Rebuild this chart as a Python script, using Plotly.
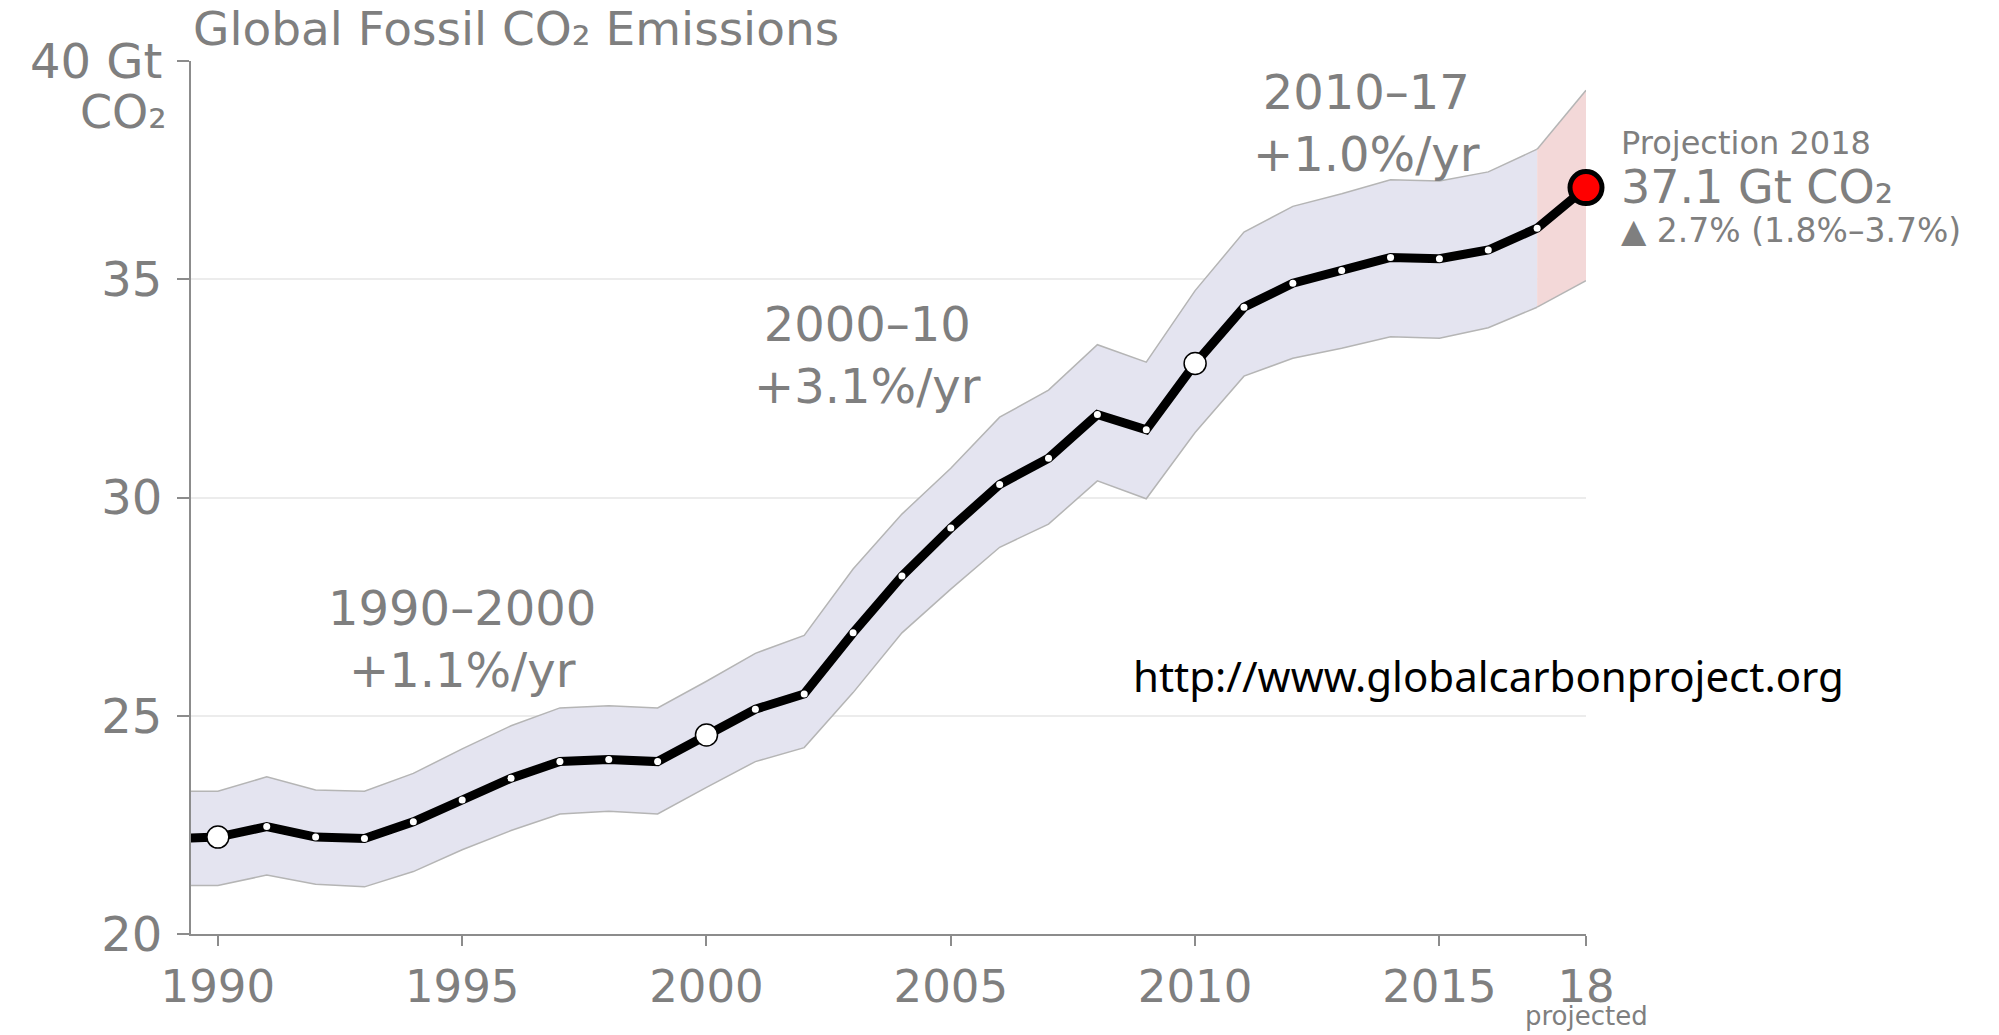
import plotly.graph_objects as go

# Global fossil CO2 emissions (Gt CO2) with uncertainty band
years = list(range(1989, 2019))
emissions = [22.18, 22.22, 22.46, 22.22, 22.19, 22.57, 23.07, 23.57, 23.95, 24.00,
             23.95, 24.56, 25.15, 25.50, 26.90, 28.20, 29.30, 30.30, 30.90, 31.90,
             31.55, 33.07, 34.36, 34.91, 35.20, 35.50, 35.47, 35.67, 36.17, 37.10]
upper = [23.27, 23.27, 23.60, 23.30, 23.27, 23.68, 24.24, 24.77, 25.18, 25.23,
         25.18, 25.79, 26.43, 26.84, 28.36, 29.62, 30.67, 31.84, 32.46, 33.50,
         33.10, 34.74, 36.08, 36.67, 36.96, 37.28, 37.25, 37.46, 37.98, 39.33]
lower = [21.11, 21.11, 21.35, 21.14, 21.08, 21.43, 21.93, 22.37, 22.75, 22.81,
         22.75, 23.36, 23.95, 24.27, 25.53, 26.90, 27.90, 28.86, 29.39, 30.38,
         29.97, 31.49, 32.78, 33.19, 33.42, 33.68, 33.65, 33.89, 34.36, 34.97]

highlight_years = [1990, 2000, 2010]
projection_year = 2018

tick_vals_x = [1990, 1995, 2000, 2005, 2010, 2015, 2018]
tick_text_x = ["1990", "1995", "2000", "2005", "2010", "2015", "18"]
tick_vals_y = [20, 25, 30, 35, 40]
tick_text_y = ["20", "25", "30", "35", "40 Gt"]

period_labels = [
    (1995.0, 26.76, "1990–2000<br>+1.1%/yr"),
    (2003.3, 33.26, "2000–10<br>+3.1%/yr"),
    (2013.5, 38.58, "2010–17<br>+1.0%/yr"),
]

GRAY = "#7f7f7f"
FONT = "DejaVu Sans"

hist_idx = [i for i, y in enumerate(years) if y <= 2017]
proj_idx = [i for i, y in enumerate(years) if y >= 2017]

fig = go.Figure()

# historical uncertainty band
fig.add_trace(go.Scatter(x=[years[i] for i in hist_idx], y=[lower[i] for i in hist_idx],
                         mode="lines", line=dict(color="#b5b5b5", width=1.5),
                         hoverinfo="skip", showlegend=False))
fig.add_trace(go.Scatter(x=[years[i] for i in hist_idx], y=[upper[i] for i in hist_idx],
                         mode="lines", line=dict(color="#b5b5b5", width=1.5),
                         fill="tonexty", fillcolor="#e4e4f0",
                         hoverinfo="skip", showlegend=False))
# projection uncertainty band
fig.add_trace(go.Scatter(x=[years[i] for i in proj_idx], y=[lower[i] for i in proj_idx],
                         mode="lines", line=dict(color="#b5b5b5", width=1.5),
                         hoverinfo="skip", showlegend=False))
fig.add_trace(go.Scatter(x=[years[i] for i in proj_idx], y=[upper[i] for i in proj_idx],
                         mode="lines", line=dict(color="#b5b5b5", width=1.5),
                         fill="tonexty", fillcolor="#f3d8d8",
                         hoverinfo="skip", showlegend=False))

# central estimate
fig.add_trace(go.Scatter(x=years, y=emissions, mode="lines",
                         line=dict(color="black", width=9),
                         showlegend=False))

# yearly dots
dot_x = [y for y in years if 1990 <= y <= 2017]
dot_y = [emissions[years.index(y)] for y in dot_x]
fig.add_trace(go.Scatter(x=dot_x, y=dot_y, mode="markers",
                         marker=dict(color="white", size=7, line=dict(width=0)),
                         showlegend=False))
# decade markers
fig.add_trace(go.Scatter(x=highlight_years,
                         y=[emissions[years.index(y)] for y in highlight_years],
                         mode="markers",
                         marker=dict(color="white", size=22, line=dict(color="black", width=1.5)),
                         showlegend=False))
# projected value
fig.add_trace(go.Scatter(x=[projection_year], y=[emissions[years.index(projection_year)]],
                         mode="markers", cliponaxis=False,
                         marker=dict(color="#ff0000", size=32, line=dict(color="black", width=5)),
                         showlegend=False))

annotations = []
for x, y, txt in period_labels:
    annotations.append(dict(x=x, y=y, xref="x", yref="y", text=txt, showarrow=False,
                            font=dict(family=FONT, size=48, color=GRAY), align="center"))

proj_val = emissions[years.index(projection_year)]
annotations += [
    dict(x=0, y=1.0375, xref="paper", yref="paper", xanchor="left", yanchor="middle",
         text="Global Fossil CO₂ Emissions", showarrow=False,
         font=dict(family=FONT, size=47, color=GRAY)),
    dict(x=-0.016, y=38.84, xref="paper", yref="y", xanchor="right", yanchor="middle",
         text="CO₂", showarrow=False,
         font=dict(family=FONT, size=46, color=GRAY)),
    dict(x=1.024, y=38.12, xref="paper", yref="y", xanchor="left", yanchor="middle",
         text="Projection 2018", showarrow=False,
         font=dict(family=FONT, size=32, color=GRAY)),
    dict(x=1.024, y=37.12, xref="paper", yref="y", xanchor="left", yanchor="middle",
         text=f"{proj_val:.1f} Gt CO₂", showarrow=False,
         font=dict(family=FONT, size=46, color=GRAY)),
    dict(x=1.024, y=36.12, xref="paper", yref="y", xanchor="left", yanchor="middle",
         text="▲ 2.7% (1.8%–3.7%)", showarrow=False,
         font=dict(family=FONT, size=33, color=GRAY)),
    dict(x=projection_year, y=-0.1135, xref="x", yref="paper", xanchor="center", yanchor="bottom",
         text="projected", showarrow=False,
         font=dict(family=FONT, size=26, color=GRAY)),
    dict(x=2016.0, y=25.93, xref="x", yref="y", xanchor="center", yanchor="middle",
         text="http://www.globalcarbonproject.org", showarrow=False,
         font=dict(family="Noto Sans", size=42, color="black")),
]

fig.update_layout(
    width=1999, height=1035,
    margin=dict(l=191, r=413, t=61, b=101),
    plot_bgcolor="white", paper_bgcolor="white",
    showlegend=False,
    annotations=annotations,
)
fig.update_xaxes(range=[1989.45, 2018], tickvals=tick_vals_x, ticktext=tick_text_x,
                 showgrid=False, showline=True, linecolor="#8c8c8c", linewidth=2,
                 ticks="outside", ticklen=10, tickcolor="#8c8c8c", tickwidth=1.5,
                 ticklabelstandoff=2, zeroline=False,
                 tickfont=dict(family=FONT, size=45, color=GRAY))
fig.update_yaxes(range=[20, 40], tickvals=tick_vals_y, ticktext=tick_text_y,
                 showgrid=True, gridcolor="#ececec", gridwidth=1.5,
                 showline=True, linecolor="#8c8c8c", linewidth=2,
                 ticks="outside", ticklen=12, tickcolor="#8c8c8c", tickwidth=1.5,
                 ticklabelstandoff=5, zeroline=False,
                 tickfont=dict(family=FONT, size=48, color=GRAY))

fig.write_html("out.html")
